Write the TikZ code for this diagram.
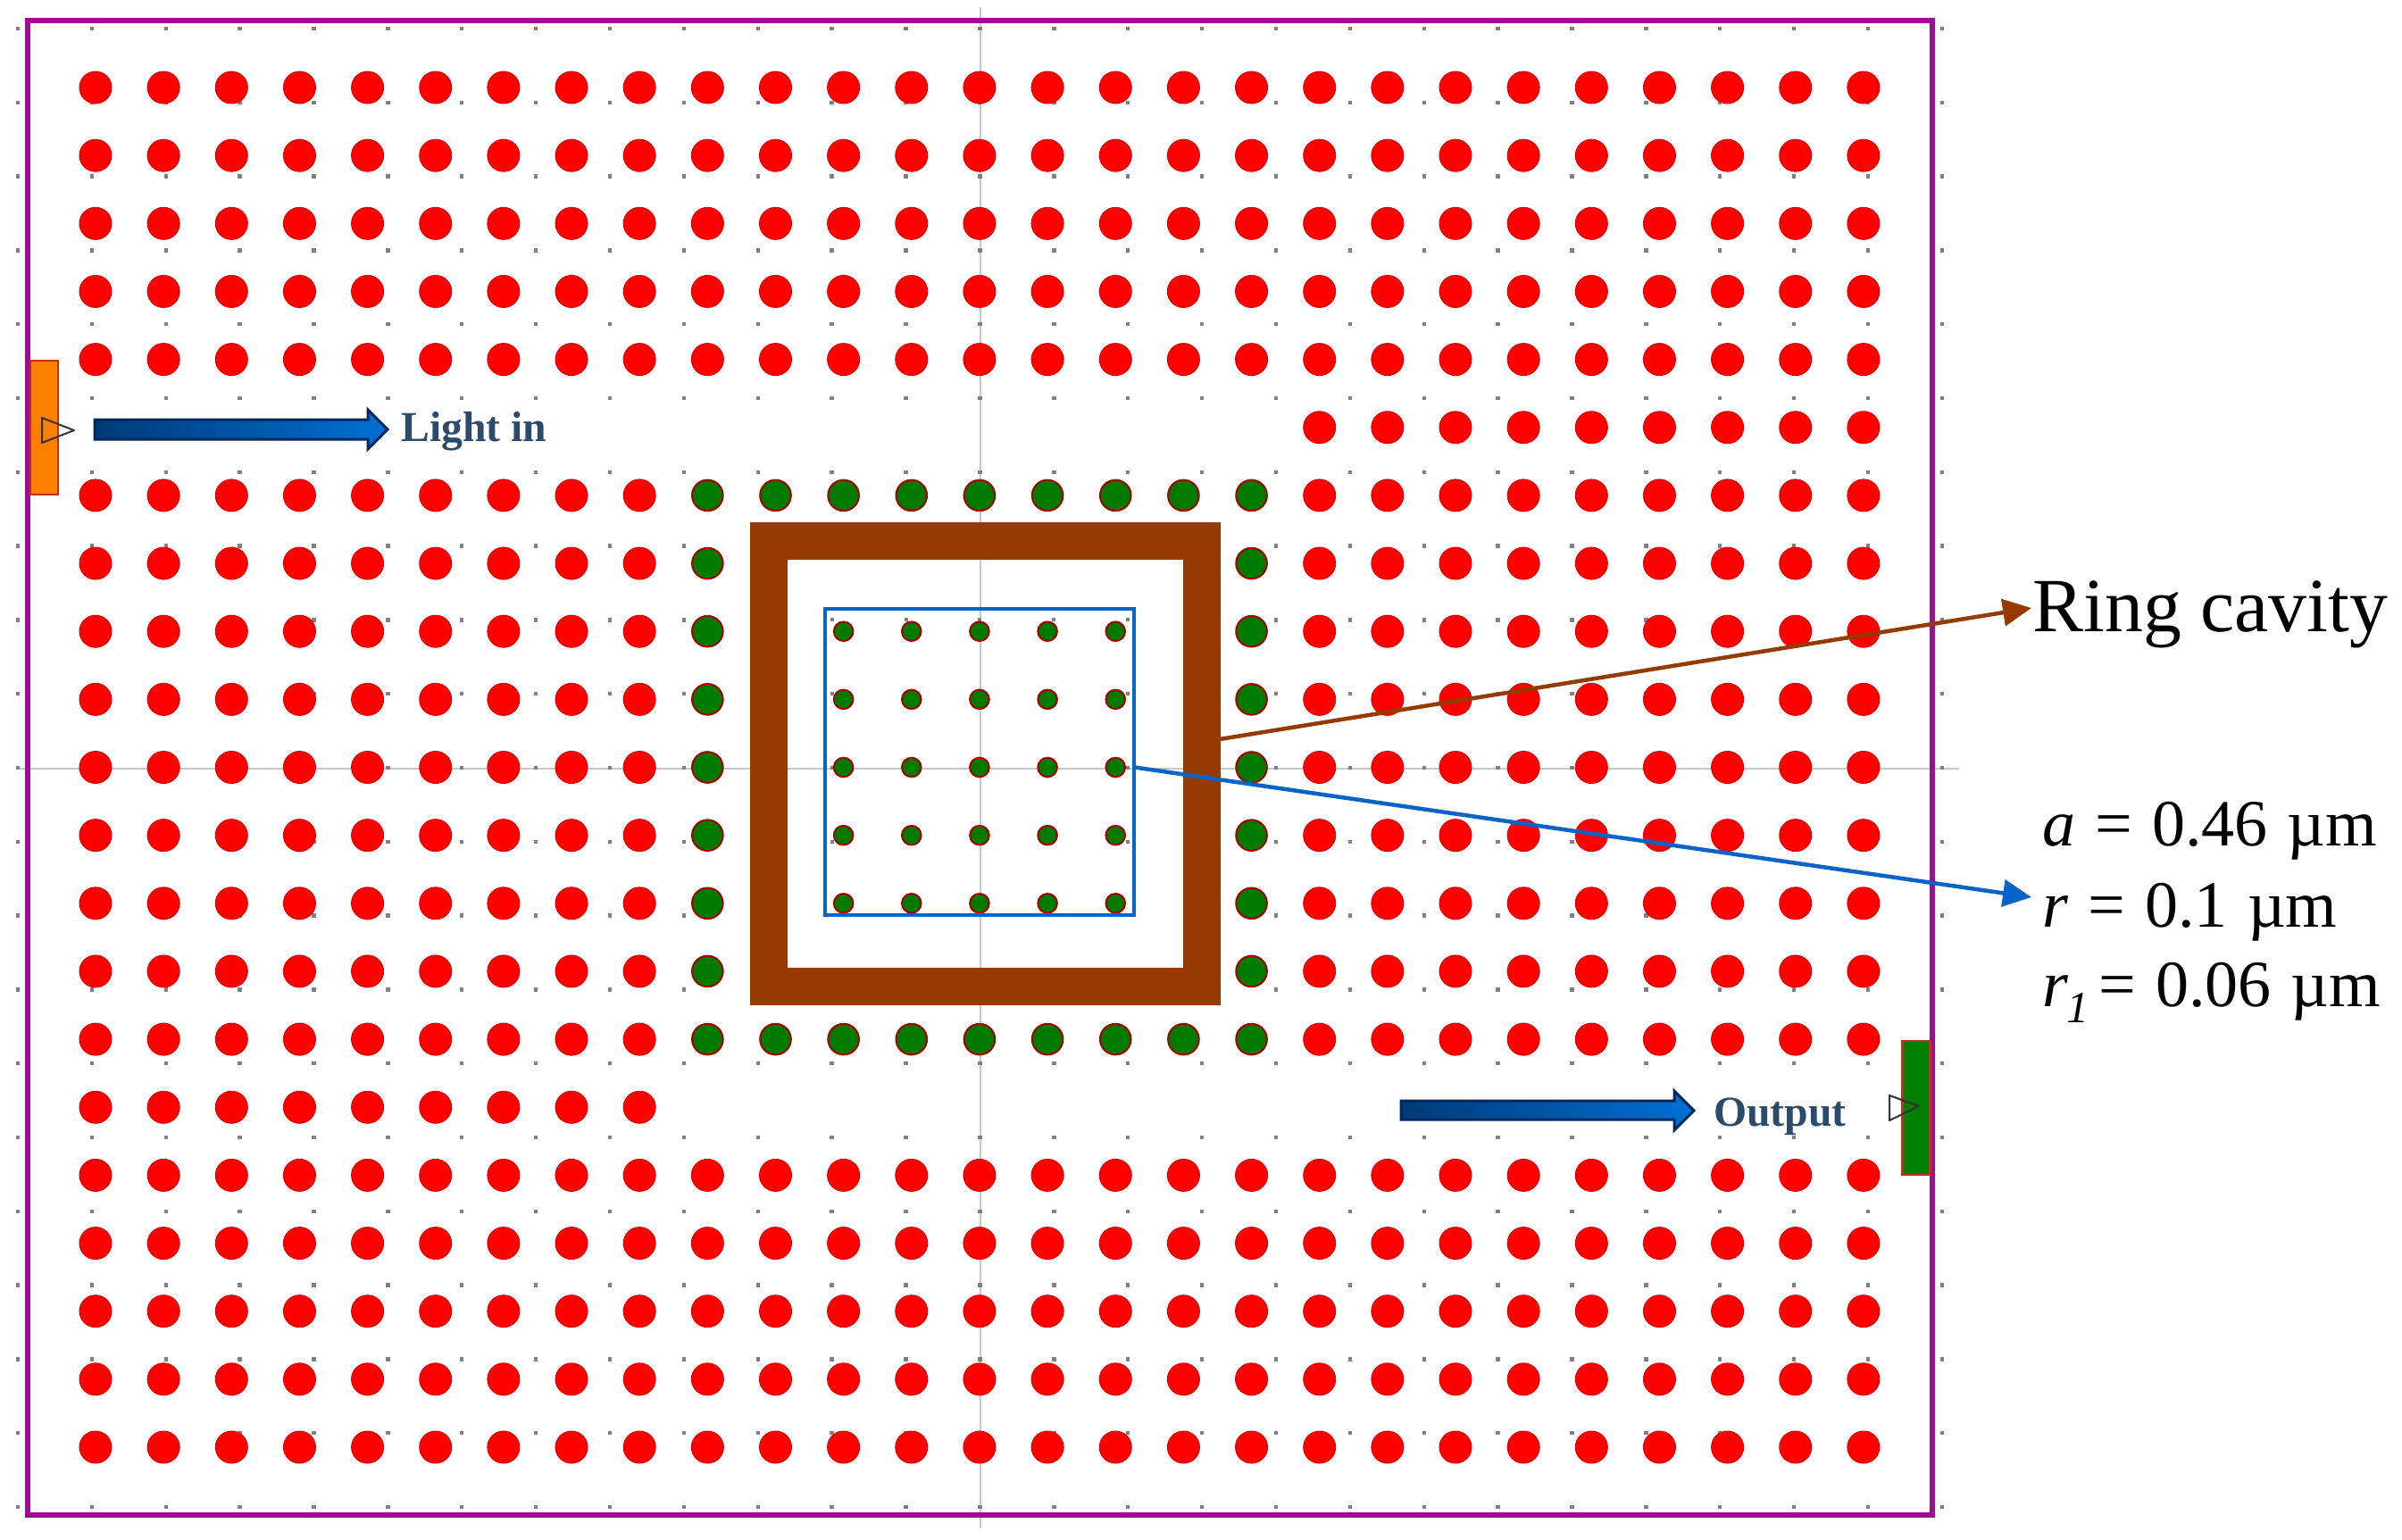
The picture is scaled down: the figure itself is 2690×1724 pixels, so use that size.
\documentclass[tikz,border=0pt]{standalone}
\usepackage{fontspec}
\setmainfont{Liberation Serif}
\newfontfamily\lblfont[WordSpace=1.2]{Liberation Serif}
\usetikzlibrary{arrows.meta,calc}
\definecolor{framepurple}{HTML}{9C0F92}
\definecolor{ringbrown}{HTML}{953A00}
\definecolor{cavblue}{HTML}{0A64C8}
\definecolor{portedge}{HTML}{C0301C}
\definecolor{labelblue}{HTML}{2C4A6C}
\definecolor{arrowdark}{HTML}{003A78}
\definecolor{arrowlight}{HTML}{0070D4}
\definecolor{arrowedge}{HTML}{00285A}
\definecolor{dotgreen}{HTML}{007A00}
\tikzset{
  griddot/.style={fill=black!50},
  reddot/.style={fill=red,draw=red!88!black,line width=1pt},
  greendot/.style={fill=dotgreen,draw=red!65!black,line width=2pt},
  port/.style={draw=portedge,line width=2.5pt,minimum width=31pt,inner sep=0pt},
  porttri/.style={draw=black!80,line width=2pt,line join=round},
  bigarrow/.style={draw=arrowedge,line width=3pt,left color=arrowdark,right color=arrowlight},
  pointer/.style={line width=4.5pt,-{Triangle[length=32pt,width=30pt]}},
  txt/.style={inner sep=0pt,anchor=base west,font=\lblfont\fontsize{74}{74}\selectfont},
  flow/.style={inner sep=0pt,anchor=base west,text=labelblue,font=\fontsize{47.7}{48}\selectfont\bfseries},
}
\begin{document}
\begin{tikzpicture}[x=1pt,y=-1pt]
\useasboundingbox (0,0) rectangle (2690,1724);
\fill[white] (0,0) rectangle (2690,1724);
% cross hair
\draw[black!22,line width=2pt] (1098,8) -- (1098,1712);
\draw[black!22,line width=2pt] (20,861) -- (2194,861);
% background grid
\foreach \i in {0,...,26}{\foreach \j in {0,...,20}{
  \def\hide{0}
  \ifnum\i>9 \ifnum\i<17 \ifnum\j>6 \ifnum\j<14 \def\hide{1}\fi\fi\fi\fi
  \ifnum\hide=0 \fill[griddot] ({20+82.88*\i-2.2},{32+82.8*\j-2.2}) rectangle +(4.4,4.4); \fi
}}
\foreach \i/\j in {11/8,12/8,13/8,14/8,15/8,11/9,15/9,11/10,15/10,11/11,15/11}{
  \fill[griddot] ({20+82.88*\i-2},{32+82.8*\j-2}) rectangle +(4,4);
}
% frame
\node[draw=framepurple,line width=6pt,minimum width=2133pt,minimum height=1674pt,inner sep=0pt] (frame) at (1097.5,860) {};
% lattice
\foreach \r in {0,...,20}{\foreach \c in {0,...,26}{
  \def\kind{1}
  \ifnum\r=5 \ifnum\c<18 \def\kind{0}\fi\fi
  \ifnum\r=15 \ifnum\c>8 \def\kind{0}\fi\fi
  \ifnum\r>5 \ifnum\r<15
    \ifnum\c>8 \ifnum\c<18
      \ifnum\r=6 \def\kind{2}\else
      \ifnum\r=14 \def\kind{2}\else
      \ifnum\c=9 \def\kind{2}\else
      \ifnum\c=17 \def\kind{2}\else
      \def\kind{0}\fi\fi\fi\fi
    \fi\fi
  \fi\fi
  \ifnum\kind=1 \path[reddot] ({107+76.15*\c},{98+76.15*\r}) circle (18); \fi
  \ifnum\kind=2 \path[greendot] ({107+76.15*\c},{98+76.15*\r}) circle (17.3); \fi
}}
\foreach \r in {8,...,12}{\foreach \c in {11,...,15}{
  \path[greendot] ({107+76.15*\c},{98+76.15*\r}) circle (10.8);
}}
% ring and cavity
\node[draw=ringbrown,line width=42pt,minimum width=485pt,minimum height=498.5pt,inner sep=0pt,outer sep=21pt] (ring) at (1103.5,855.5) {};
\node[draw=cavblue,line width=4pt,minimum width=346pt,minimum height=343pt,inner sep=0pt] (cavity) at (1096.5,853.5) {};
% ports
\node[port,minimum height=150pt,fill=orange] (inport) at (49.5,479) {};
\node[port,fill=green!50!black,minimum height=150pt] (outport) at (2146,1241) {};
\draw[porttri] (47,468) -- (47,496) -- (83,482) -- cycle;
\draw[porttri] (2116,1227) -- (2116,1255) -- (2149,1239) -- cycle;
% flow arrows
\shade[bigarrow] (106,470) -- (412,470) -- (412,459) -- (434,481) -- (412,503) -- (412,492) -- (106,492) -- cycle;
\node[flow] (lightin) at (449,494) {Light in};
\shade[bigarrow] (1569,1233) -- (1875,1233) -- (1875,1222) -- (1897,1244) -- (1875,1266) -- (1875,1254) -- (1569,1254) -- cycle;
\node[flow] (output) at (1919,1261) {Output};
% labels
\node[txt,font=\fontsize{85.8}{86}\selectfont] (ringlabel) at (2276,707) {Ring cavity};
\node[txt] (alabel) at (2287,947.5) {\textit{a} = 0.46 µm};
\node[txt] (rlabel) at (2287,1038.6) {\textit{r} = 0.1 µm};
\node[txt] (r1label) at (2287,1127) {\textit{r}\hspace{-2pt}\raisebox{-18pt}{\fontsize{50}{50}\selectfont\textit{1}}\hspace{11pt}= 0.06 µm};
% pointers
\coordinate (ringtip) at (2275,681);
\coordinate (paramtip) at (2275,1005);
\draw[pointer,ringbrown] (ring.6.4) -- (ringtip);
\draw[pointer,cavblue] (cavity.-2.8) -- (paramtip);
\end{tikzpicture}
\end{document}
